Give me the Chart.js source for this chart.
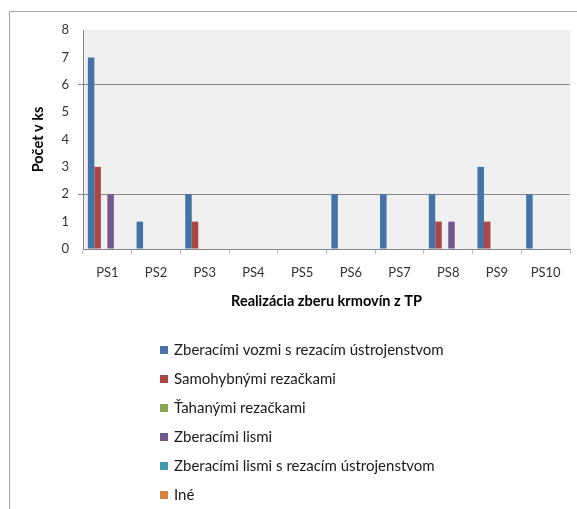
<!DOCTYPE html>
<html>
<head>
<meta charset="utf-8">
<script src="https://cdn.jsdelivr.net/npm/chart.js@4.4.0/dist/chart.umd.min.js"></script>
<style>
  html, body { margin: 0; padding: 0; background: #fff; }
  #wrap { width: 577px; height: 509px; position: relative; }
</style>
</head>
<body>
<div id="wrap"><canvas id="chart" width="577" height="509"></canvas></div>
<script>
// data
var stations = ['PS1', 'PS2', 'PS3', 'PS4', 'PS5', 'PS6', 'PS7', 'PS8', 'PS9', 'PS10'];
var vozmi = [7, 1, 2, 0, 0, 2, 2, 2, 3, 2];
var samohybne = [3, 0, 1, 0, 0, 0, 0, 1, 1, 0];
var tahane = [0, 0, 0, 0, 0, 0, 0, 0, 0, 0];
var lisy = [2, 0, 0, 0, 0, 0, 0, 1, 0, 0];
var lisyRezacie = [0, 0, 0, 0, 0, 0, 0, 0, 0, 0];
var ine = [0, 0, 0, 0, 0, 0, 0, 0, 0, 0];
var yTicks = [0, 1, 2, 3, 4, 5, 6, 7, 8];

var FONT = 'Lato, "Open Sans", sans-serif';

// plot background, outer frame, legend drawn as a list below
var framePlugin = {
    id: 'frame',
    beforeDraw: function(c) {
        var ctx = c.ctx, a = c.chartArea;
        ctx.save();
        ctx.fillStyle = '#fff';
        ctx.fillRect(0, 0, c.width, c.height);
        ctx.strokeStyle = '#a6a6a6';
        ctx.lineWidth = 1;
        ctx.beginPath();
        ctx.moveTo(9.5, c.height);
        ctx.lineTo(9.5, 11.5);
        ctx.lineTo(c.width, 11.5);
        ctx.stroke();
        ctx.fillStyle = '#f0f0f0';
        ctx.fillRect(a.left, a.top, a.right - a.left, a.bottom - a.top);
        ctx.restore();
    },
    afterDraw: function(c) {
        var ctx = c.ctx;
        ctx.save();
        ctx.font = '15px ' + FONT;
        ctx.textBaseline = 'middle';
        c.data.datasets.forEach(function(ds, i) {
            var y = 350 + 29 * i;
            ctx.fillStyle = ds.backgroundColor;
            ctx.fillRect(160, y - 4, 8, 8);
            ctx.fillStyle = '#1a1a1a';
            ctx.fillText(ds.label, 174, y);
        });
        ctx.restore();
    }
};

var ctx = document.getElementById('chart').getContext('2d');
var chart = new Chart(ctx, {
    type: 'bar',
    data: {
        labels: stations,
        datasets: [
            { label: 'Zberacími vozmi s rezacím ústrojenstvom', data: vozmi, backgroundColor: '#4572A7' },
            { label: 'Samohybnými rezačkami', data: samohybne, backgroundColor: '#AA4643' },
            { label: 'Ťahanými rezačkami', data: tahane, backgroundColor: '#89A54E' },
            { label: 'Zberacími lismi', data: lisy, backgroundColor: '#71588F' },
            { label: 'Zberacími lismi s rezacím ústrojenstvom', data: lisyRezacie, backgroundColor: '#4198AF' },
            { label: 'Iné', data: ine, backgroundColor: '#DB843D' }
        ]
    },
    options: {
        responsive: false,
        animation: false,
        layout: { padding: { left: 30, top: 30, right: 7, bottom: 199 } },
        categoryPercentage: 0.8,
        barPercentage: 1.0,
        plugins: {
            legend: { display: false },
            tooltip: { enabled: false }
        },
        scales: {
            x: {
                grid: {
                    offset: true,
                    drawOnChartArea: false,
                    tickLength: 5,
                    color: '#bfbfbf'
                },
                border: { color: '#868686' },
                ticks: {
                    padding: 11,
                    color: '#333',
                    font: { family: FONT, size: 13 }
                },
                title: {
                    display: true,
                    text: 'Realizácia zberu krmovín z TP',
                    color: '#000',
                    font: { family: FONT, size: 14.5, weight: 'bold' },
                    padding: { top: 0, bottom: 0 }
                },
                afterFit: function(s) { s.height = 61; }
            },
            y: {
                min: 0,
                max: 8,
                afterBuildTicks: function(s) {
                    s.ticks = yTicks.map(function(v) { return { value: v }; });
                },
                grid: {
                    tickLength: 5,
                    color: function(g) {
                        var v = g.tick ? g.tick.value : null;
                        return (v === 2 || v === 6) ? '#868686' : 'transparent';
                    }
                },
                border: { color: '#868686' },
                ticks: {
                    padding: 9,
                    color: '#333',
                    font: { family: FONT, size: 13 }
                },
                title: {
                    display: true,
                    text: 'Počet v ks',
                    color: '#000',
                    font: { family: FONT, size: 14.5, weight: 'bold' },
                    padding: 0
                },
                afterFit: function(s) { s.width = 53; }
            }
        }
    },
    plugins: [framePlugin]
});
</script>
</body>
</html>
